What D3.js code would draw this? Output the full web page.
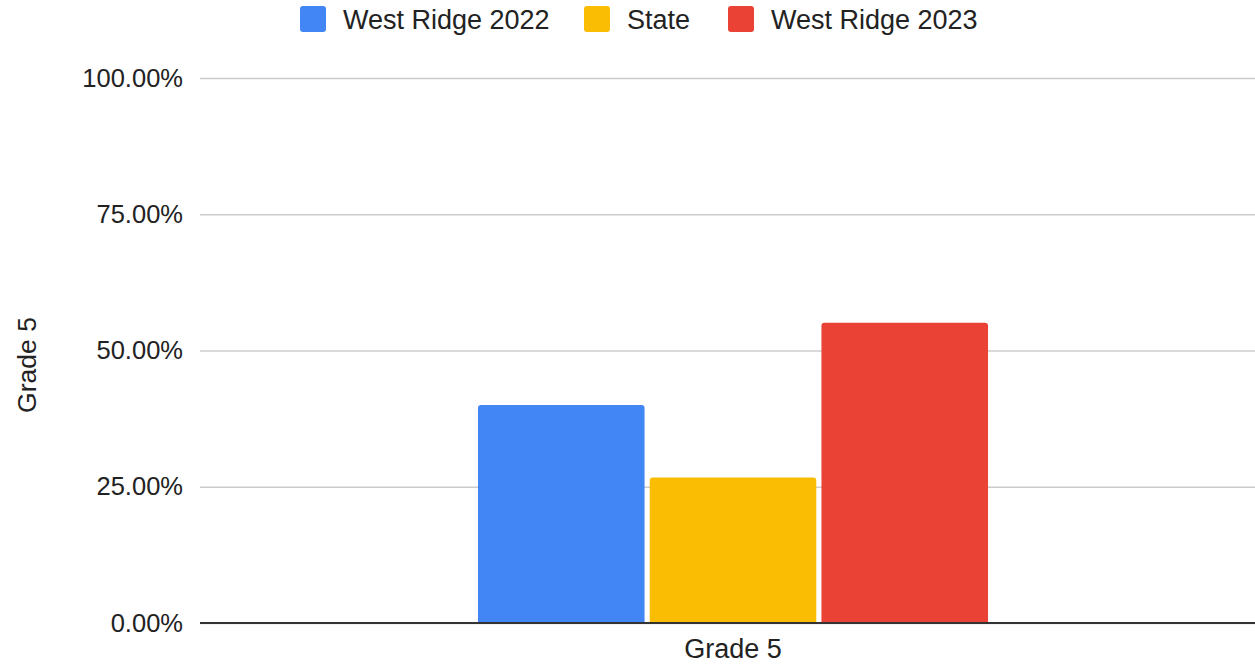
<!DOCTYPE html>
<html><head><meta charset="utf-8">
<script src="https://cdn.jsdelivr.net/npm/d3@7"></script>
<style>body{margin:0;background:#fff}svg{display:block;font-family:"Liberation Sans",Arial,sans-serif}</style>
</head><body><svg id="c" width="1255" height="664"></svg>
<script>
const categories = ["Grade 5"];
const seriesNames = ["West Ridge 2022", "State", "West Ridge 2023"];
const westRidge2022 = [0.40];
const state = [0.267];
const westRidge2023 = [0.551];
const yTicks = [0, 0.25, 0.5, 0.75, 1];
const colors = ["#4285F4", "#FBBC04", "#EA4335"];
const seriesValues = [westRidge2022, state, westRidge2023];

const svg = d3.select("#c");
const plotL = 200, plotR = 1266, plotT = 78, plotB = 623;
const y = d3.scaleLinear().domain([0, 1]).range([plotB, plotT]);
const x0 = d3.scaleBand().domain(categories).range([plotL, plotR]).paddingInner(0).paddingOuter(0.545);
const x1 = d3.scaleBand().domain(seriesNames).range([0, x0.bandwidth()]).paddingInner(0.03).paddingOuter(0);
const fmt = d3.format(".2%");

// gridlines
const yAxis = d3.axisLeft(y).tickValues(yTicks).tickFormat(fmt).tickSize(-(1255 - plotL)).tickPadding(17);
const gy = svg.append("g").attr("transform", `translate(${plotL},0)`).call(yAxis);
gy.select(".domain").remove();
gy.selectAll(".tick line").attr("stroke", "#cccccc").attr("stroke-width", 1.5);
gy.selectAll(".tick text").attr("font-size", 25.5).attr("fill", "#222").attr("font-family", "Liberation Sans, Arial, sans-serif");

// bars with rounded top corners
const r = 3;
function barPath(x, w, yTop, yBot) {
  return `M${x},${yBot}V${yTop + r}Q${x},${yTop} ${x + r},${yTop}H${x + w - r}Q${x + w},${yTop} ${x + w},${yTop + r}V${yBot}Z`;
}
categories.forEach((c, ci) => {
  seriesNames.forEach((s, si) => {
    const v = seriesValues[si][ci];
    const bx = x0(c) + x1(s);
    svg.append("path").attr("d", barPath(bx, x1.bandwidth(), y(v), y(0))).attr("fill", colors[si]);
  });
});

// x axis
svg.append("line").attr("x1", plotL).attr("x2", 1255).attr("y1", y(0)).attr("y2", y(0)).attr("stroke", "#333").attr("stroke-width", 2);
const xAxis = d3.axisBottom(x0).tickSize(0).tickPadding(16);
const gx = svg.append("g").attr("transform", `translate(0,${y(0)})`).call(xAxis);
gx.select(".domain").remove();
gx.selectAll(".tick text").attr("font-size", 27).attr("fill", "#222").attr("font-family", "Liberation Sans, Arial, sans-serif");

// y axis title
svg.append("text").attr("transform", "translate(36,365) rotate(-90)").attr("text-anchor", "middle")
  .attr("font-size", 26.5).attr("fill", "#222").text("Grade 5");

// legend
const legendX = [300, 584, 728];
const lg = svg.append("g");
seriesNames.forEach((s, i) => {
  lg.append("rect").attr("x", legendX[i]).attr("y", 6).attr("width", 26).attr("height", 26).attr("rx", 3).attr("fill", colors[i]);
  lg.append("text").attr("x", legendX[i] + 43).attr("y", 28.5).attr("font-size", 27).attr("fill", "#222").text(s);
});
</script></body></html>
